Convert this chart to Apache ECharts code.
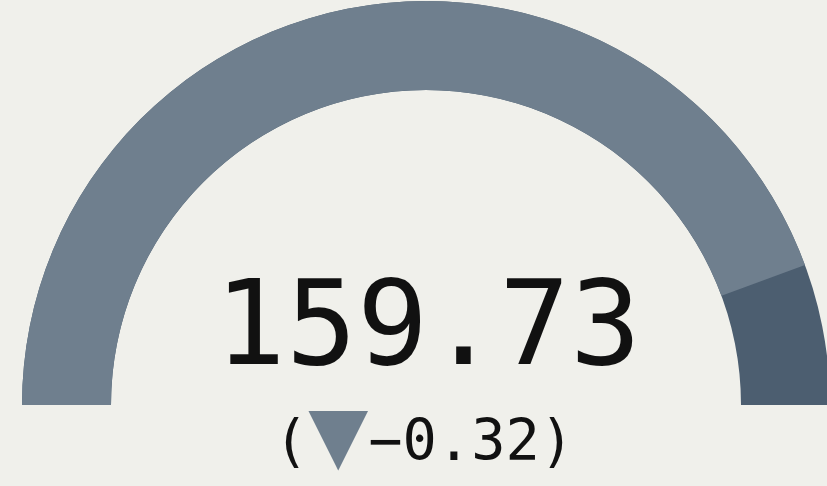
<!DOCTYPE html>
<html>
<head>
<meta charset="utf-8">
<script src="https://cdn.jsdelivr.net/npm/echarts@6/dist/echarts.min.js"></script>
<style>
  html, body { margin: 0; padding: 0; background: #f0f0eb; }
  #gauge { width: 827px; height: 486px; }
</style>
</head>
<body>
<div id="gauge"></div>
<script>
// gauge data
const values = [159.73];
const deltas = [-0.32];
const range = [0, 180];

const chart = echarts.init(document.getElementById('gauge'));

const delta = deltas[0];
const arrow = delta < 0 ? '▼' : '▲';
// plotly style minus sign
const deltaText = (delta < 0 ? '\u2212' : '') + Math.abs(delta).toFixed(2);
const deltaLabel = '{p|(}{t|' + arrow + '}{p|' + deltaText + ')}';

const option = {
  backgroundColor: '#f0f0eb',
  series: [
    {
      type: 'gauge',
      startAngle: 180,
      endAngle: 0,
      min: range[0],
      max: range[1],
      center: [426, 405],
      radius: 404,
      pointer: { show: false },
      progress: {
        show: true,
        width: 89,
        itemStyle: { color: '#6f7f8e' }
      },
      axisLine: {
        lineStyle: { width: 89, color: [[1, '#4c5e70']] }
      },
      axisTick: { show: false },
      splitLine: { show: false },
      axisLabel: { show: false },
      title: {
        offsetCenter: [-2, 40],
        rich: {
          p: { fontFamily: 'DejaVu Sans Mono', fontSize: 57, color: '#111' },
          t: { fontFamily: 'DejaVu Sans', fontSize: 78, color: '#6f7f8e', padding: [0, 0, 9, 0] }
        }
      },
      detail: {
        offsetCenter: [2, -72],
        fontFamily: 'DejaVu Sans Mono',
        fontWeight: 'normal',
        fontSize: 118,
        color: '#111',
        formatter: v => v.toFixed(2)
      },
      data: [{ value: values[0], name: deltaLabel }]
    }
  ]
};

chart.setOption(option);
</script>
</body>
</html>
